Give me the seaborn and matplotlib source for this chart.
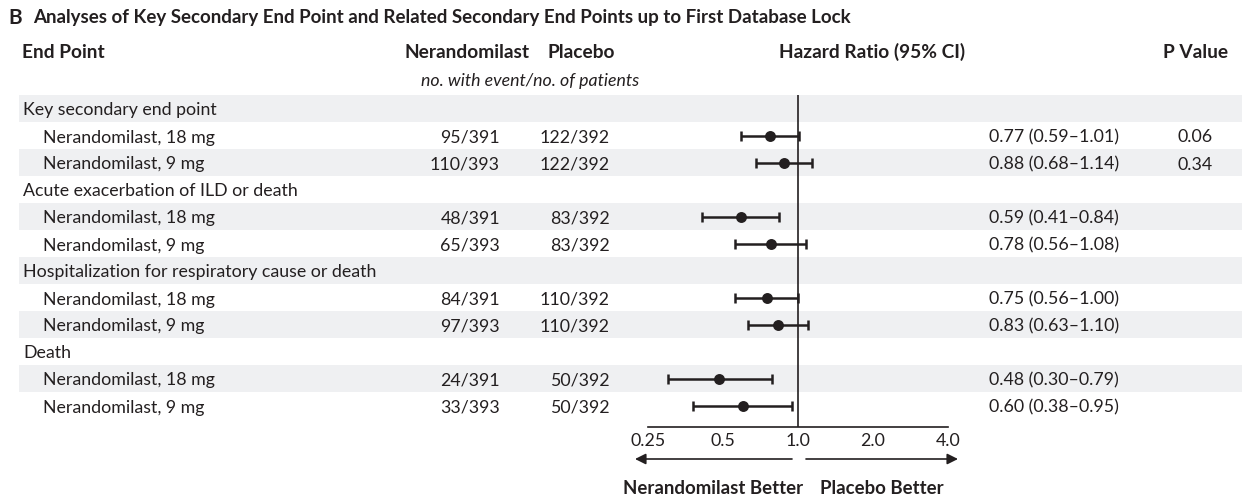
import numpy as np
import pandas as pd
import matplotlib
matplotlib.use("Agg")
import matplotlib.pyplot as plt
import seaborn as sns

# data
endpoints = ["Key secondary end point", "Acute exacerbation of ILD or death",
             "Hospitalization for respiratory cause or death", "Death"]
arms = ["Nerandomilast, 18 mg", "Nerandomilast, 9 mg"]
nera_counts = ["95/391", "110/393", "48/391", "65/393", "84/391", "97/393", "24/391", "33/393"]
placebo_counts = ["122/392", "122/392", "83/392", "83/392", "110/392", "110/392", "50/392", "50/392"]
hr = [0.77, 0.88, 0.59, 0.78, 0.75, 0.83, 0.48, 0.60]
ci_low = [0.59, 0.68, 0.41, 0.56, 0.56, 0.63, 0.30, 0.38]
ci_high = [1.01, 1.14, 0.84, 1.08, 1.00, 1.10, 0.79, 0.95]
p_values = ["0.06", "0.34", "", "", "", "", "", ""]
ticks = [0.25, 0.5, 1.0, 2.0, 4.0]
tick_labels = ["0.25", "0.5", "1.0", "2.0", "4.0"]

sns.set_style("white")
plt.rcParams['font.family'] = ['Lato', 'DejaVu Sans']
ink = "#231f20"
band = "#eff0f2"
fs = 12.8      # regular text
fsb = 13.8     # bold headers
dy = 2         # small downward nudge for text

# build rows: header row then two arm rows per end point
rows = []
k = 0
for ep in endpoints:
    rows.append(dict(label=ep, indent=False, idx=None))
    for a in arms:
        rows.append(dict(label=a, indent=True, idx=k))
        k += 1
for i, r in enumerate(rows):
    r['row'] = i
df = pd.DataFrame([r for r in rows if r['idx'] is not None])
df['hr'] = [hr[j] for j in df['idx']]
df['lo'] = [ci_low[j] for j in df['idx']]
df['hi'] = [ci_high[j] for j in df['idx']]

fig = plt.figure(figsize=(12.52, 5.0), dpi=100)
bg = fig.add_axes([0, 0, 1, 1])
bg.set_xlim(0, 1252)
bg.set_ylim(500, 0)
bg.axis("off")

row_y = lambda i: 108.5 + 27 * i

# shaded bands
for i in range(0, len(rows), 2):
    bg.fill_between([19, 1242], row_y(i) - 13.5, row_y(i) + 13.5, color=band, lw=0, zorder=0)

# title
bg.text(8, 16 + dy, "B", fontsize=15, fontweight="bold", color=ink, va="center")
bg.text(33, 16 + dy, "Analyses of Key Secondary End Point and Related Secondary End Points up to First Database Lock",
        fontsize=13.5, fontweight="bold", color=ink, va="center")

# headers
bg.text(22, 50 + dy, "End Point", fontsize=fsb, fontweight="bold", color=ink, va="center")
bg.text(467, 50 + dy, "Nerandomilast", fontsize=fsb, fontweight="bold", color=ink, va="center", ha="center")
bg.text(581, 50 + dy, "Placebo", fontsize=fsb, fontweight="bold", color=ink, va="center", ha="center")
bg.text(872, 50 + dy, "Hazard Ratio (95% CI)", fontsize=fsb, fontweight="bold", color=ink, va="center", ha="center")
bg.text(1196, 50 + dy, "P Value", fontsize=fsb, fontweight="bold", color=ink, va="center", ha="center")
bg.text(530, 79 + dy, "no. with event/no. of patients", fontsize=fs, style="italic", color=ink,
        va="center", ha="center")

# table text
for r in rows:
    y = row_y(r['row']) + dy
    bg.text(43 if r['indent'] else 23, y, r['label'], fontsize=fs, color=ink, va="center")
    j = r['idx']
    if j is None:
        continue
    bg.text(500, y, nera_counts[j], fontsize=fs, color=ink, va="center", ha="right")
    bg.text(610, y, placebo_counts[j], fontsize=fs, color=ink, va="center", ha="right")
    bg.text(1119, y, f"{hr[j]:.2f} ({ci_low[j]:.2f}\u2013{ci_high[j]:.2f})", fontsize=fs,
            color=ink, va="center", ha="right")
    if p_values[j]:
        bg.text(1213, y, p_values[j], fontsize=fs, color=ink, va="center", ha="right")

# forest plot
ax = fig.add_axes([648 / 1252, 1 - 427 / 500, 300 / 1252, (427 - 95) / 500])
ax.patch.set_alpha(0)
ax.set_xscale("log", base=2)
ax.set_xlim(0.25, 4.0)
ax.set_ylim((427 - 108.5) / 27, -0.5)
ax.axvline(1.0, color=ink, lw=1.2, zorder=1)
ax.errorbar(df['hr'], df['row'], xerr=[df['hr'] - df['lo'], df['hi'] - df['hr']],
            fmt="none", ecolor=ink, elinewidth=1.8, capsize=3.5, capthick=1.8, zorder=2)
sns.scatterplot(data=df, x='hr', y='row', ax=ax, color=ink, s=62, edgecolor=ink, linewidth=0, zorder=3)
ax.set_xticks(ticks)
ax.set_xticklabels(tick_labels)
ax.minorticks_off()
ax.set_yticks([])
ax.set_xlabel("")
ax.set_ylabel("")
for s in ["top", "left", "right"]:
    ax.spines[s].set_visible(False)
ax.spines["bottom"].set_color(ink)
ax.spines["bottom"].set_linewidth(1.2)
ax.tick_params(axis="x", direction="in", length=6.5, width=1.2, color=ink, labelcolor=ink,
               labelsize=fs, pad=4.5)

# direction arrows
arrow = dict(arrowstyle="-|>", lw=1.2, color=ink, mutation_scale=16, shrinkA=0, shrinkB=0)
bg.annotate("", xy=(635, 459), xytext=(792, 459), arrowprops=arrow)
bg.annotate("", xy=(958, 459), xytext=(806, 459), arrowprops=arrow)
bg.text(713, 487 + dy, "Nerandomilast Better", fontsize=13.4, fontweight="bold", color=ink,
        va="center", ha="center")
bg.text(882, 487 + dy, "Placebo Better", fontsize=13.4, fontweight="bold", color=ink,
        va="center", ha="center")

fig.savefig("out.png", dpi=100)
